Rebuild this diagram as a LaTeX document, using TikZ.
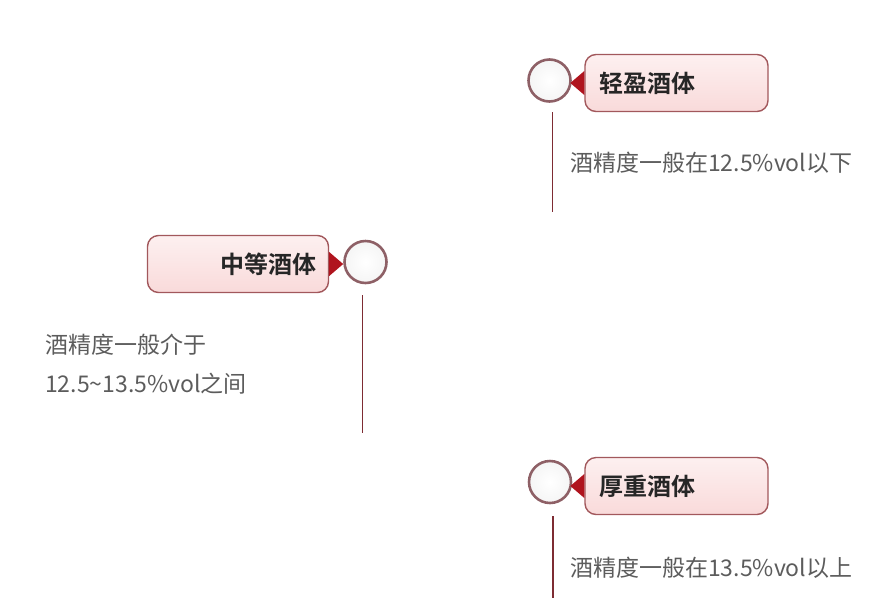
\documentclass[tikz,border=0pt]{standalone}
\usepackage{fontspec}
\setmainfont{Noto Sans CJK SC}[BoldFont={Noto Sans CJK SC Bold}]

\begin{document}
\begin{tikzpicture}[x=1pt,y=-1pt,
	titlebox/.style={draw=boxline,line width=1.4pt,rounded corners=11pt,top color=boxtop,bottom color=boxbottom,minimum height=57pt,inner ysep=0pt,font=\fontsize{24}{28}\selectfont\bfseries,text=black!85},
	knob/.style={circle,draw=knobline,line width=2.6pt,minimum size=42pt,inner sep=0pt,inner color=white,outer color=black!4},
	pointer/.style={fill=tipred},
	stem/.style={draw=stemline,line width=1.4pt},
	note/.style={anchor=west,text=notegray,inner sep=0pt,font=\fontsize{23}{39}\selectfont}]
			\definecolor{boxline}{HTML}{A2585C}
			\definecolor{boxtop}{HTML}{FDF0F0}
			\definecolor{boxbottom}{HTML}{F9DADA}
			\definecolor{knobline}{HTML}{8E6066}
			\definecolor{tipred}{HTML}{B0141E}
			\definecolor{stemline}{HTML}{7E2C33}
			\definecolor{notegray}{HTML}{5C5C5C}
			\useasboundingbox (0,0) rectangle (888,598);
			% light
			\node[titlebox,text width=155pt,align=left,inner xsep=14pt] (light) at (676.5,83) {轻盈酒体};
			\node[knob] (lightknob) at (549.5,80.5) {};
			\fill[pointer] (light.west) ++(0,-12) -- ++(-14,12) -- ++(14,12) -- cycle;
			\coordinate (lighttop) at (552.5,112);
			\coordinate (lightend) at (552.5,212);
			\draw[stem] (lighttop) -- (lightend);
			\node[note] (lightnote) at (570,163) {酒精度一般在12.5\%vol以下};
			% medium
			\node[titlebox,text width=157pt,align=right,inner xsep=12pt] (medium) at (238,264) {中等酒体};
			\node[knob] (mediumknob) at (365.5,262) {};
			\fill[pointer] (medium.east) ++(0,-12) -- ++(14,12) -- ++(-14,12) -- cycle;
			\coordinate (mediumtop) at (362.5,295);
			\coordinate (mediumend) at (362.5,433);
			\draw[stem] (mediumtop) -- (mediumend);
			\node[note,align=left] (mediumnote) at (45,364.5) {酒精度一般介于\\12.5\textasciitilde13.5\%vol之间};
			% full
			\node[titlebox,text width=155pt,align=left,inner xsep=14pt] (full) at (676.5,486) {厚重酒体};
			\node[knob] (fullknob) at (550,482) {};
			\fill[pointer] (full.west) ++(0,-12) -- ++(-14,12) -- ++(14,12) -- cycle;
			\coordinate (fulltop) at (553,516);
			\coordinate (fullend) at (553,598);
			\draw[stem] (fulltop) -- (fullend);
			\node[note] (fullnote) at (570,568) {酒精度一般在13.5\%vol以上};
\end{tikzpicture}
\end{document}
